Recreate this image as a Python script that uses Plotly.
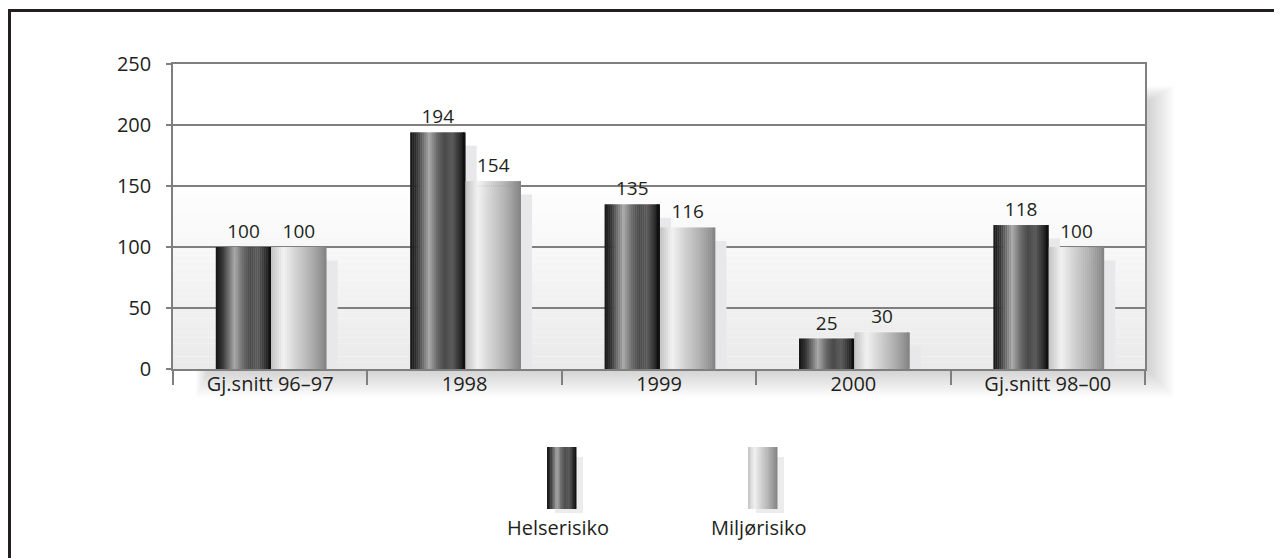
import plotly.graph_objects as go

kategorier = ["Gj.snitt 96–97", "1998", "1999", "2000", "Gj.snitt 98–00"]
helserisiko = [100, 194, 135, 25, 118]
miljorisiko = [100, 154, 116, 30, 100]
serienavn = ["Helserisiko", "Miljørisiko"]
y_ticks = [0, 50, 100, 150, 200, 250]

# plot area in page pixels (for paper-referenced decoration)
L, R, T, B = 173, 1145, 64, 369
W_PX, H_PX = R - L, B - T
PAGE_OFF = 8  # default body margin of the page


def px(x):
    return (x - L) / W_PX


def py(y):
    return (B - y) / H_PX


def hex2rgb(h):
    h = h.lstrip('#')
    return [int(h[i:i + 2], 16) for i in (0, 2, 4)]


def grad_color(stops, t):
    for (t0, c0), (t1, c1) in zip(stops[:-1], stops[1:]):
        if t0 <= t <= t1:
            a, b = hex2rgb(c0), hex2rgb(c1)
            f = (t - t0) / (t1 - t0) if t1 > t0 else 0
            r = [round(a[k] + (b[k] - a[k]) * f) for k in range(3)]
            return 'rgb({},{},{})'.format(*r)
    return stops[-1][1]


dark_stops = [(0, '#141414'), (0.12, '#363636'), (0.34, '#a8a8a8'), (0.5, '#666666'),
              (0.62, '#4a4a4a'), (0.76, '#5c5c5c'), (1, '#0a0a0a')]
light_stops = [(0, '#c2c2c2'), (0.22, '#f2f2f2'), (0.45, '#d2d2d2'), (0.72, '#b0b0b0'),
               (1, '#838383')]

BAR_W = 0.285
offsets = [-0.28, 0.005]
N = 28

fig = go.Figure()

# bar shadows
for vals, off in zip([helserisiko, miljorisiko], offsets):
    fig.add_trace(go.Bar(x=kategorier, y=[v - 11 for v in vals], width=BAR_W, offset=off + 0.057,
                         marker=dict(color='#e8e8ea', line_width=0, cornerradius=9),
                         hoverinfo='skip', showlegend=False))

# gradient bars built from thin slices
for vals, off, stops, navn in zip([helserisiko, miljorisiko], offsets,
                                  [dark_stops, light_stops], serienavn):
    sw = BAR_W / N
    for i in range(N):
        fig.add_trace(go.Bar(x=kategorier, y=vals, width=sw * (1.2 if i < N - 1 else 1),
                             offset=off + i * sw,
                             marker=dict(color=grad_color(stops, (i + 0.5) / N), line_width=0),
                             hoverinfo='skip', showlegend=False))
    # value labels
    fig.add_trace(go.Bar(x=kategorier, y=vals, width=BAR_W, offset=off, name=navn,
                         marker=dict(color='rgba(0,0,0,0)', line_width=0),
                         text=[str(v) for v in vals], textposition='outside',
                         textfont=dict(size=19, color='#231f20'),
                         cliponaxis=False, showlegend=False))

shapes = []

# soft plot-area shadow (right and bottom): outer light -> inner dark
steps_sh = 12
for k in range(steps_sh):
    f = k / (steps_sh - 1)
    g = round(252 - (252 - 212) * f)
    shapes.append(dict(type='rect', xref='paper', yref='paper',
                       x0=px(196 + 12 * f), x1=px(1174 - 24 * f),
                       y0=py(397 - 25 * f), y1=py(86 + 14 * f),
                       fillcolor='rgb({0},{0},{0})'.format(g), line_width=0, layer='below'))

# plot background: white, grading to light grey at the bottom
shapes.append(dict(type='rect', xref='paper', yref='paper', x0=0, x1=1, y0=0, y1=1,
                   fillcolor='white', line_width=0, layer='below'))
steps = 30
for i in range(steps):
    y0 = i / steps * 0.62
    y1 = (i + 1) / steps * 0.62
    g = round(234 + (255 - 234) * (i / steps))
    shapes.append(dict(type='rect', xref='paper', yref='paper', x0=0, x1=1, y0=y0, y1=y1,
                       fillcolor='rgb({0},{0},{0})'.format(g), line_width=0, layer='below'))

# outer frame
shapes.append(dict(type='rect', xref='paper', yref='paper', x0=px(9.5), x1=px(1300),
                   y0=py(580), y1=py(10.5), line=dict(color='#231f20', width=3),
                   fillcolor='rgba(0,0,0,0)'))

# legend icons
annotations = []
leg_x = [547, 748]
for lx, stops, navn in zip(leg_x, [dark_stops, light_stops], serienavn):
    shapes.append(dict(type='rect', xref='paper', yref='paper', x0=px(lx + 8), x1=px(lx + 36),
                       y0=py(513), y1=py(457), fillcolor='#ececec', line_width=0))
    n = 18
    for i in range(n):
        shapes.append(dict(type='rect', xref='paper', yref='paper',
                           x0=px(lx + 29 * i / n), x1=px(lx + 29 * (i + 1) / n + 0.5),
                           y0=py(509), y1=py(447),
                           fillcolor=grad_color(stops, (i + 0.5) / n), line_width=0))
    annotations.append(dict(xref='paper', yref='paper', x=px(lx + 11), y=py(527), text=navn,
                            showarrow=False, xanchor='center', yanchor='middle',
                            font=dict(size=20, color='#231f20')))

fig.update_layout(
    width=1282, height=558,
    margin=dict(l=L - PAGE_OFF, r=1282 - (L - PAGE_OFF) - W_PX,
                t=T - PAGE_OFF, b=558 - (T - PAGE_OFF) - H_PX),
    barmode='overlay',
    paper_bgcolor='white',
    plot_bgcolor='rgba(0,0,0,0)',
    font=dict(family='Open Sans', color='#231f20'),
    shapes=shapes,
    annotations=annotations,
    showlegend=False,
)

fig.update_xaxes(
    type='category', showline=True, linecolor='#7f7f7f', linewidth=1.5, mirror=True,
    ticks='outside', tickson='boundaries', ticklen=14, tickcolor='#7f7f7f', tickwidth=1.5,
    tickfont=dict(size=20, color='#231f20'), showgrid=False, ticklabelstandoff=-4,
)
fig.update_yaxes(
    range=[0, 250], tickvals=y_ticks, showline=True, linecolor='#7f7f7f', linewidth=1.5,
    mirror=True, ticks='outside', ticklen=5, tickcolor='#7f7f7f', tickwidth=1.5,
    showgrid=True, gridcolor='#7f7f7f', gridwidth=1.5, zeroline=False,
    tickfont=dict(size=20, color='#231f20'), ticklabelstandoff=11,
)

fig.write_html("out.html")
